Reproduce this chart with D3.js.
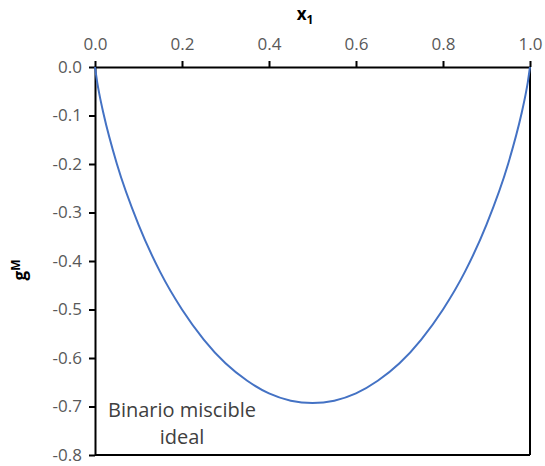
<!DOCTYPE html>
<html>
<head>
<meta charset="utf-8">
<script src="https://cdn.jsdelivr.net/npm/d3@7"></script>
<style>
  body { margin: 0; background: #fff; }
  text { font-family: "Open Sans", "Liberation Sans", sans-serif; }
</style>
</head>
<body>
<div id="chart"></div>
<script>
// values
var x1 = [0, 0.005, 0.01, 0.02, 0.05, 0.1, 0.15, 0.2, 0.25, 0.3, 0.35, 0.4, 0.45, 0.5,
          0.55, 0.6, 0.65, 0.7, 0.75, 0.8, 0.85, 0.9, 0.95, 0.98, 0.99, 0.995, 1];
var gM = [0, -0.031, -0.056, -0.098, -0.199, -0.325, -0.423, -0.500, -0.562, -0.611, -0.647, -0.673, -0.688, -0.693,
          -0.688, -0.673, -0.647, -0.611, -0.562, -0.500, -0.423, -0.325, -0.199, -0.098, -0.056, -0.031, 0];
var xTicks = [0, 0.2, 0.4, 0.6, 0.8, 1.0];
var yTicks = [0, -0.1, -0.2, -0.3, -0.4, -0.5, -0.6, -0.7, -0.8];

var width = 545, height = 466;
var mLeft = 95, mRight = 530, mTop = 67, mBottom = 455;

var svg = d3.select("#chart").append("svg")
  .attr("width", width).attr("height", height);

var x = d3.scaleLinear().domain([0, 1]).range([mLeft, mRight]);
var y = d3.scaleLinear().domain([0, -0.8]).range([mTop, mBottom]);

// frame (right and bottom edges)
svg.append("line").attr("x1", mRight).attr("x2", mRight).attr("y1", mTop).attr("y2", mBottom)
  .attr("stroke", "#000").attr("stroke-width", 2);
svg.append("line").attr("x1", mLeft).attr("x2", mRight).attr("y1", mBottom).attr("y2", mBottom)
  .attr("stroke", "#000").attr("stroke-width", 2);

// top x axis
var xAxis = svg.append("g").attr("transform", "translate(0," + mTop + ")")
  .call(d3.axisTop(x).tickValues(xTicks).tickFormat(d3.format(".1f")).tickSize(6).tickSizeOuter(0).tickPadding(11));

// left y axis
var yAxis = svg.append("g").attr("transform", "translate(" + mLeft + ",0)")
  .call(d3.axisLeft(y).tickValues(yTicks).tickFormat(d3.format(".1f")).tickSize(6).tickSizeOuter(0).tickPadding(7));

[xAxis, yAxis].forEach(function(a) {
  a.select(".domain").attr("stroke", "#000").attr("stroke-width", 2);
  a.selectAll(".tick line").attr("stroke", "#000").attr("stroke-width", 2);
  a.selectAll(".tick text").attr("fill", "#595959").style("font-size", "17px");
});
yAxis.selectAll(".tick text").text(function(d) { return d === 0 ? "0.0" : d3.format(".1f")(d).replace("−", "-"); });

// curve
var pts = x1.map(function(d, i) { return [d, gM[i]]; });
svg.append("path").datum(pts)
  .attr("fill", "none").attr("stroke", "#4472C4").attr("stroke-width", 2)
  .attr("d", d3.line().x(function(d) { return x(d[0]); }).y(function(d) { return y(d[1]); }).curve(d3.curveMonotoneX));

// axis titles
var xt = svg.append("text").attr("x", 305).attr("y", 20).attr("text-anchor", "middle")
  .attr("fill", "#000").style("font-size", "17px").style("font-weight", "bold");
xt.append("tspan").text("x");
xt.append("tspan").attr("dy", 4).style("font-size", "12px").text("1");

var yt = svg.append("text").attr("transform", "translate(26,270) rotate(-90)").attr("text-anchor", "middle")
  .attr("fill", "#000").style("font-size", "17px").style("font-weight", "bold");
yt.append("tspan").text("g");
yt.append("tspan").attr("dy", -6).style("font-size", "12px").text("M");

// annotation
svg.append("text").attr("x", 182).attr("y", 417).attr("text-anchor", "middle")
  .attr("fill", "#404040").style("font-size", "20px").text("Binario miscible");
svg.append("text").attr("x", 182).attr("y", 444).attr("text-anchor", "middle")
  .attr("fill", "#404040").style("font-size", "20px").text("ideal");
</script>
</body>
</html>
